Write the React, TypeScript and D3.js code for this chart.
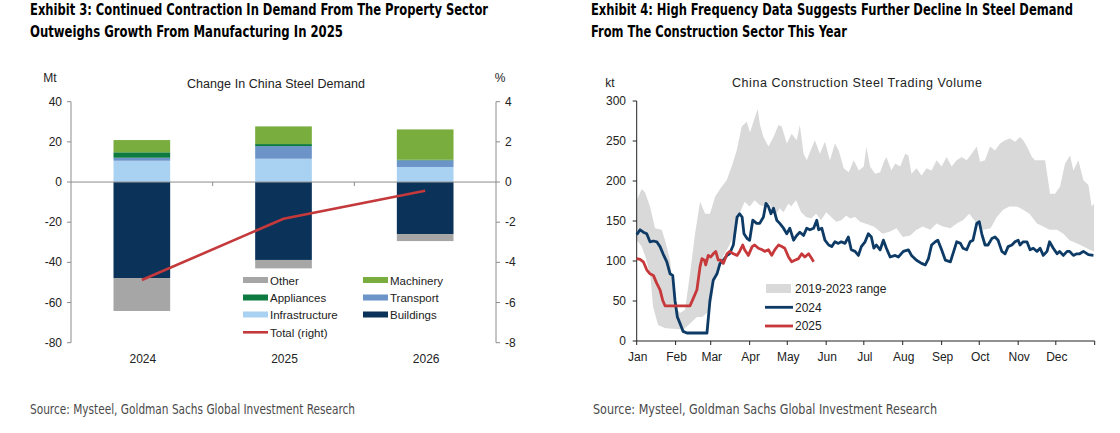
import * as d3 from "d3";

// ---- Exhibit 3 data (Mt, % right axis) ----
const years = ["2024", "2025", "2026"];
const buildings = [-47.8, -38.8, -25.9];
const other = [-16.4, -4.2, -3.5];
const infrastructure = [10.6, 11.6, 7.5];
const transport = [1.5, 6.3, 3.3];
const appliances = [2.7, 1.0, 0.3];
const machinery = [6.1, 8.8, 15.1];
const totalPct = [-4.88, -1.83, -0.43];
const leftTicks = [40, 20, 0, -20, -40, -60, -80];
const rightTicks = [4, 2, 0, -2, -4, -6, -8];

// ---- Exhibit 4 data (kt, day of year) ----
const monthLabels = ["Jan", "Feb", "Mar", "Apr", "May", "Jun", "Jul", "Aug", "Sep", "Oct", "Nov", "Dec"];
const monthStarts = [0, 31, 59, 90, 120, 151, 181, 212, 243, 273, 304, 334, 365];
const volTicks = [0, 50, 100, 150, 200, 250, 300];

const rangeUpper: [number, number][] = [
  [0, 176], [4, 190], [6.6, 186], [10.6, 168], [14.6, 141], [19.9, 139], [22.6, 126], [26.6, 101],
  [30.6, 43], [34.5, 35], [38.5, 39], [42.5, 84], [46.5, 134], [50.5, 174], [54.5, 159], [58.4, 159],
  [62.4, 180], [66.4, 190], [71.7, 201], [75.7, 218], [79.7, 238], [83.7, 268], [87.7, 274], [90.3, 261],
  [94.3, 280], [96.4, 290], [98.3, 270], [101, 255], [105, 243], [109, 255], [113, 270], [115.6, 268],
  [119.6, 247], [123.5, 259], [127.5, 251], [130, 270], [133, 234], [135.5, 226], [138, 236], [142, 251],
  [146, 234], [150, 249], [154, 226], [158, 247], [161, 238], [165, 216], [169, 211], [173, 226],
  [177, 213], [181, 218], [183, 243], [186, 218], [190, 209], [194, 211], [197, 224], [199, 230],
  [203, 213], [206, 222], [210, 218], [214, 234], [216.5, 232], [219, 209], [223, 216], [227, 207],
  [231, 216], [235, 213], [239, 226], [243, 218], [247, 230], [251, 218], [255, 226], [259, 230],
  [263, 226], [267, 234], [271, 243], [273.6, 224], [277.6, 226], [281.6, 243], [285.6, 238], [289.6, 247],
  [293.6, 251], [297.6, 253], [301.5, 249], [305.5, 255], [308, 251], [311, 243], [315, 230], [317.5, 226],
  [321.5, 226], [325.5, 226], [329.4, 184], [333.4, 184], [337.4, 193], [341.4, 222], [345.4, 232],
  [348, 213], [352, 226], [356, 201], [360, 195], [362.6, 168], [364.5, 172],
];
const rangeLower: [number, number][] = [
  [0, 126], [4, 118], [7, 105], [11, 80], [13, 43], [17, 20], [23, 16], [32, 15], [37, 14], [40, 18],
  [44, 24], [48, 30], [52, 30], [56, 35], [60, 51], [62, 80], [66, 97], [70, 109], [74, 120], [78, 134],
  [82, 159], [86, 174], [90, 168], [94, 176], [98, 170], [102, 168], [106, 172], [110, 155], [114, 166],
  [117, 161], [121, 172], [123, 168], [127, 176], [131, 161], [135, 155], [139, 153], [143, 159],
  [147, 151], [151, 161], [155, 155], [159, 149], [163, 151], [167, 157], [170, 153], [174, 155],
  [178, 149], [182, 147], [189, 143], [196, 134], [202, 137], [207, 141], [212, 130], [218, 132],
  [223, 139], [228, 143], [234, 139], [239, 147], [244, 143], [250, 141], [255, 147], [260, 151],
  [265, 159], [271, 147], [276, 139], [282, 141], [287, 155], [292, 164], [297, 168], [303, 168],
  [308, 164], [313, 159], [319, 147], [324, 143], [329, 139], [335, 139], [340, 134], [345, 126],
  [351, 122], [356, 118], [361, 114], [364.5, 112],
];
const vol2024: [number, number][] = [
  [0, 133], [2.7, 139], [5.3, 136], [8, 134], [10.6, 124], [13.3, 125], [16, 124], [18.6, 118], [21, 109],
  [24, 99], [26.6, 84], [28.7, 82], [30.5, 51], [32.4, 30], [34.5, 22], [37, 12], [40, 10], [56, 10],
  [58.4, 51], [61, 76], [64, 84], [66.4, 97], [69, 101], [72, 107], [74, 109], [77, 120], [80, 155],
  [82, 159], [84, 155], [85.5, 134], [88, 128], [90, 126], [92.5, 151], [95.6, 147], [98, 147], [101, 155],
  [103, 172], [105, 168], [107, 159], [109, 166], [111.6, 151], [114, 147], [117, 141], [119.6, 134],
  [122, 141], [125, 126], [127.5, 132], [130, 136], [133, 132], [135.5, 141], [138, 139], [141, 141],
  [143.5, 151], [145, 139], [147.5, 141], [150, 126], [153, 120], [155.4, 118], [158, 124], [160.7, 122],
  [163, 124], [166, 122], [168.7, 130], [171, 114], [174, 112], [176.7, 107], [179, 118], [182, 124],
  [184.6, 134], [187, 130], [189, 116], [191, 120], [194, 114], [196.6, 126], [199, 116], [202, 105],
  [206, 107], [208.5, 105], [212.5, 112], [216.5, 114], [219, 107], [223, 101], [227, 97], [230, 95],
  [232.5, 103], [235, 120], [238, 124], [240, 126], [243, 114], [246, 101], [250, 99], [252, 109],
  [255, 124], [258, 122], [260, 116], [263, 114], [265.7, 124], [268, 126], [271, 147], [273, 149],
  [275, 134], [277.6, 120], [280, 120], [283, 128], [285.6, 130], [288, 126], [291, 112], [293.6, 109],
  [296, 118], [299, 120], [301.5, 124], [304, 126], [305.5, 120], [308, 124], [311, 124], [313.5, 114],
  [316, 116], [319, 112], [321.5, 116], [324, 107], [327, 112], [329, 124], [332, 116], [335, 109],
  [337, 112], [340, 107], [343, 112], [345, 112], [348, 107], [350.7, 109], [353, 109], [356, 112],
  [360, 108], [364, 107],
];
const vol2025: [number, number][] = [
  [0, 103], [2.7, 102], [5.3, 99], [8, 89], [10.6, 84], [13.3, 82], [16, 72], [18.6, 64], [20.7, 51],
  [22.6, 44], [42.5, 44], [45, 53], [48, 64], [50.5, 93], [52, 103], [54, 101], [55, 95], [57, 107],
  [59, 105], [61, 109], [63, 112], [65, 101], [67, 101], [69, 97], [72, 109], [74, 112], [77, 109],
  [80, 107], [82, 112], [84.5, 120], [86, 114], [89, 107], [92, 118], [94, 120], [97, 116], [100, 114],
  [102, 112], [105, 114], [107.6, 107], [110, 114], [113, 120], [115.6, 118], [118, 116], [121, 105],
  [123.5, 99], [126, 101], [129, 103], [131.5, 109], [134, 105], [137, 109], [139.5, 103], [141, 99],
];

const C = {
  buildings: "#0b3259",
  other: "#a6a6a6",
  infrastructure: "#a9d1f1",
  transport: "#6d94c8",
  appliances: "#0d7a3f",
  machinery: "#79ae3e",
  total: "#c4393b",
  band: "#d9d9d9",
  y2024: "#0d3b66",
  y2025: "#c7383a",
};

const sans = "'Liberation Sans', Arial, sans-serif";
const narrow = "'Liberation Sans Narrow', 'DejaVu Sans Condensed', 'Roboto', sans-serif";

const keys = ["Buildings", "Other", "Infrastructure", "Transport", "Appliances", "Machinery"];
const series: Record<string, number[]> = {
  Buildings: buildings,
  Other: other,
  Infrastructure: infrastructure,
  Transport: transport,
  Appliances: appliances,
  Machinery: machinery,
};
const keyColor: Record<string, string> = {
  Buildings: C.buildings,
  Other: C.other,
  Infrastructure: C.infrastructure,
  Transport: C.transport,
  Appliances: C.appliances,
  Machinery: C.machinery,
};

function DemandChart() {
  const x = d3.scaleBand<string>().domain(years).range([71, 496]).paddingInner(0.6).paddingOuter(0.3);
  const y = d3.scaleLinear().domain([-80, 40]).range([342.7, 101.7]);
  const yr = d3.scaleLinear().domain([-8, 4]).range([342.7, 101.7]);

  const rows = years.map((yr_, i) => {
    const r: Record<string, number | string> = { year: yr_ };
    keys.forEach((k) => (r[k] = series[k][i]));
    return r;
  });
  const stacked = d3
    .stack<Record<string, number | string>>()
    .keys(keys)
    .value((d, k) => d[k] as number)
    .offset(d3.stackOffsetDiverging)(rows);

  const line = d3
    .line<number>()
    .x((_, i) => (x(years[i]) ?? 0) + x.bandwidth() / 2)
    .y((d) => yr(d));

  const legendLeft = [
    { k: "Other", c: C.other, x: 243, y: 280 },
    { k: "Appliances", c: C.appliances, x: 243, y: 297.5 },
    { k: "Infrastructure", c: C.infrastructure, x: 243, y: 314.5 },
    { k: "Machinery", c: C.machinery, x: 363, y: 280 },
    { k: "Transport", c: C.transport, x: 363, y: 297.5 },
    { k: "Buildings", c: C.buildings, x: 363, y: 314.5 },
  ];

  return (
    <g>
      <text x={30} y={15} fontFamily={narrow} fontWeight="bold" fontSize={15} textLength={458} lengthAdjust="spacingAndGlyphs">
        Exhibit 3: Continued Contraction In Demand From The Property Sector
      </text>
      <text x={30} y={37} fontFamily={narrow} fontWeight="bold" fontSize={15} textLength={313} lengthAdjust="spacingAndGlyphs">
        Outweighs Growth From Manufacturing In 2025
      </text>

      <text x={276} y={88} textAnchor="middle" fontFamily={sans} fontSize={12.5} fill="#222" textLength={178} lengthAdjust="spacing">
        Change In China Steel Demand
      </text>
      <text x={50} y={82} textAnchor="middle" fontFamily={sans} fontSize={12} fill="#222">Mt</text>
      <text x={500} y={82} textAnchor="middle" fontFamily={sans} fontSize={12} fill="#222">%</text>

      {stacked.map((s) =>
        s.map((d, i) => (
          <rect
            key={s.key + i}
            x={x(years[i])}
            width={x.bandwidth()}
            y={y(Math.max(d[0], d[1]))}
            height={Math.abs(y(d[0]) - y(d[1]))}
            fill={keyColor[s.key]}
          />
        ))
      )}

      {/* axes */}
      <line x1={71} x2={71} y1={y(40)} y2={y(-80)} stroke="#8c8c8c" />
      <line x1={496} x2={496} y1={yr(4)} y2={yr(-8)} stroke="#8c8c8c" />
      <line x1={71} x2={496} y1={y(0)} y2={y(0)} stroke="#8c8c8c" />
      {leftTicks.map((t) => (
        <g key={"l" + t}>
          <line x1={67} x2={71} y1={y(t)} y2={y(t)} stroke="#8c8c8c" />
          <text x={62} y={y(t) + 4} textAnchor="end" fontFamily={sans} fontSize={12} fill="#222">{t}</text>
        </g>
      ))}
      {rightTicks.map((t) => (
        <g key={"r" + t}>
          <line x1={496} x2={500} y1={yr(t)} y2={yr(t)} stroke="#8c8c8c" />
          <text x={505} y={yr(t) + 4} textAnchor="start" fontFamily={sans} fontSize={12} fill="#222">{t}</text>
        </g>
      ))}
      {[1, 2].map((i) => {
        const bx = 71 + x.step() * i;
        return <line key={"c" + i} x1={bx} x2={bx} y1={y(0)} y2={y(0) + 4} stroke="#8c8c8c" />;
      })}
      {years.map((yy) => (
        <text key={yy} x={(x(yy) ?? 0) + x.bandwidth() / 2 + 1} y={363} textAnchor="middle" fontFamily={sans} fontSize={12} fill="#222">
          {yy}
        </text>
      ))}

      <path d={line(totalPct) ?? ""} fill="none" stroke={C.total} strokeWidth={2.6} />

      {/* legend */}
      {legendLeft.map((l) => (
        <g key={l.k}>
          <rect x={l.x} y={l.y - 3} width={25} height={6} fill={l.c} />
          <text x={l.x + 27} y={l.y + 4.5} fontFamily={sans} fontSize={11.5} fill="#222">{l.k}</text>
        </g>
      ))}
      <line x1={243} x2={268} y1={332.3} y2={332.3} stroke={C.total} strokeWidth={2.6} />
      <text x={270} y={336.8} fontFamily={sans} fontSize={11.5} fill="#222">Total (right)</text>

      <text x={30} y={414} fontFamily={narrow} fontSize={14} fill="#4a4a4a" textLength={325} lengthAdjust="spacingAndGlyphs">
        Source: Mysteel, Goldman Sachs Global Investment Research
      </text>
    </g>
  );
}

function VolumeChart() {
  const x = d3.scaleLinear().domain([0, 365]).range([636.7, 1094.7]);
  const y = d3.scaleLinear().domain([0, 300]).range([341, 101]);
  const line = d3
    .line<[number, number]>()
    .x((d) => x(d[0]))
    .y((d) => y(d[1]));
  const bandPath =
    (line(rangeUpper) ?? "") + "L" + (line(rangeLower.slice().reverse()) ?? "").slice(1) + "Z";

  return (
    <g>
      <text x={591} y={15} fontFamily={narrow} fontWeight="bold" fontSize={15} textLength={482} lengthAdjust="spacingAndGlyphs">
        Exhibit 4: High Frequency Data Suggests Further Decline In Steel Demand
      </text>
      <text x={591} y={37} fontFamily={narrow} fontWeight="bold" fontSize={15} textLength={256} lengthAdjust="spacingAndGlyphs">
        From The Construction Sector This Year
      </text>

      <text x={857} y={87} textAnchor="middle" fontFamily={sans} fontSize={12.5} fill="#222" textLength={250} lengthAdjust="spacing">
        China Construction Steel Trading Volume
      </text>
      <text x={610} y={87} textAnchor="middle" fontFamily={sans} fontSize={12} fill="#222">kt</text>

      <path d={bandPath} fill={C.band} stroke="none" />

      <line x1={x(0)} x2={x(0)} y1={y(300)} y2={y(0)} stroke="#222" />
      <line x1={x(0)} x2={x(365)} y1={y(0)} y2={y(0)} stroke="#222" />
      {volTicks.map((t) => (
        <g key={"v" + t}>
          <line x1={x(0) - 4} x2={x(0)} y1={y(t)} y2={y(t)} stroke="#222" />
          <text x={626} y={y(t) + 4} textAnchor="end" fontFamily={sans} fontSize={12} fill="#222">{t}</text>
        </g>
      ))}
      {monthStarts.map((m) => (
        <line key={"m" + m} x1={x(m)} x2={x(m)} y1={y(0)} y2={y(0) + 4} stroke="#222" />
      ))}
      {monthLabels.map((m, i) => (
        <text key={m} x={x(monthStarts[i]) + 1} y={361} textAnchor="middle" fontFamily={sans} fontSize={12} fill="#222">
          {m}
        </text>
      ))}

      <path d={line(vol2024) ?? ""} fill="none" stroke={C.y2024} strokeWidth={2.8} strokeLinejoin="round" />
      <path d={line(vol2025) ?? ""} fill="none" stroke={C.y2025} strokeWidth={2.8} strokeLinejoin="round" />

      {/* legend */}
      <rect x={766} y={284} width={25} height={9} fill={C.band} />
      <text x={795} y={292.5} fontFamily={sans} fontSize={12} fill="#222">2019-2023 range</text>
      <line x1={765} x2={793} y1={307.3} y2={307.3} stroke={C.y2024} strokeWidth={2.8} />
      <text x={795} y={311.5} fontFamily={sans} fontSize={12} fill="#222">2024</text>
      <line x1={765} x2={793} y1={326} y2={326} stroke={C.y2025} strokeWidth={2.8} />
      <text x={795} y={330.2} fontFamily={sans} fontSize={12} fill="#222">2025</text>

      <text x={593} y={414} fontFamily={narrow} fontSize={14} fill="#4a4a4a" textLength={344} lengthAdjust="spacingAndGlyphs">
        Source: Mysteel, Goldman Sachs Global Investment Research
      </text>
    </g>
  );
}

export default function App() {
  return (
    <svg
      width={1120}
      height={433}
      style={{ position: "absolute", left: 0, top: 0, background: "#fff" }}
    >
      <rect width={1120} height={433} fill="#fff" />
      <DemandChart />
      <VolumeChart />
    </svg>
  );
}
